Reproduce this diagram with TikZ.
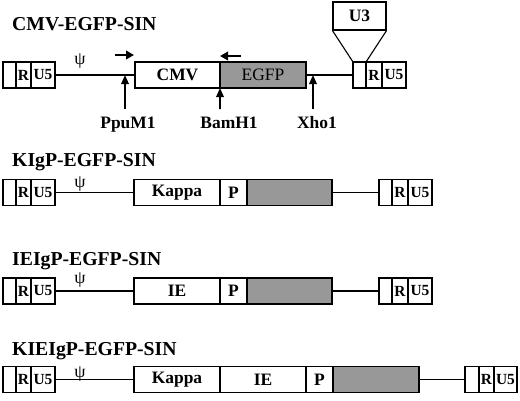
\documentclass[tikz,border=0pt]{standalone}
\usepackage{fontspec}
\setmainfont{Liberation Serif}
\usetikzlibrary{arrows.meta}
\newcommand\ttlfont{\fontsize{19.8}{19.8}\selectfont\bfseries}
\newcommand\labfont{\fontsize{17.5}{17.5}\selectfont\bfseries}
\newcommand\ltrfont{\fontsize{15.5}{15.5}\selectfont\bfseries}
\newcommand\sitefont{\fontsize{17.5}{17.5}\selectfont\bfseries}
\definecolor{egfpgray}{RGB}{152,152,152}
\tikzset{
  seg/.style={draw, line width=1.1bp, minimum height=26bp, inner sep=0pt, outer sep=0pt, anchor=west, font=\labfont},
  ltr/.style={seg, font=\ltrfont},
  gfp/.style={seg, fill=egfpgray},
  link/.style={line width=1.1bp},
  ttl/.style={anchor=base west, inner sep=0pt, font=\ttlfont},
  psi/.style={inner sep=0pt, font=\fontsize{18}{18}\selectfont},
  site/.style={anchor=base, inner sep=0pt, font=\sitefont},
  uparrow/.style={line width=1.6bp, -{Triangle[length=9bp,width=7.5bp]}},
  primer/.style={line width=2bp, -{Triangle[length=8bp,width=8.5bp]}}
}
\begin{document}
\begin{tikzpicture}[x=1bp,y=-1bp]
\useasboundingbox (0,0) rectangle (520,400);
% ---------- Row 1 ----------
\node[ttl] (t1) at (12,30) {CMV-EGFP-SIN};
\node[ltr, minimum width=13bp] (a1) at (3,75) {};
\node[ltr, minimum width=15bp] (a1r) at (a1.east) {R};
\node[ltr, minimum width=24bp] (a1u) at (a1r.east) {U5};
\node[seg, minimum width=85bp] (cmv) at (135,75) {CMV};
\node[gfp, minimum width=86bp, font=\fontsize{17.5}{17.5}\selectfont] (egfp) at (cmv.east) {EGFP};
\node[ltr, minimum width=13bp] (b1) at (353,75) {};
\node[ltr, minimum width=16bp] (b1r) at (b1.east) {R};
\node[ltr, minimum width=24bp] (b1u) at (b1r.east) {U5};
\node[draw, line width=1.1bp, minimum width=53bp, minimum height=28bp, inner sep=0pt, font=\labfont] (u3) at (359.5,16) {U3};
\draw[link] (u3.south west) -- (b1.north west);
\draw[link] (u3.south east) -- (b1.north east);
\draw[link] (a1u.east) -- (cmv.west);
\draw[link] (egfp.east) -- (b1.west);
\node[psi] (psi1) at (80,61) {ψ};
% primers
\coordinate (p1s) at (115,55);
\coordinate (p1e) at (134,55);
\draw[primer] (p1s) -- (p1e);
\coordinate (p2s) at (241,56);
\coordinate (p2e) at (220,56);
\draw[primer] (p2s) -- (p2e);
% sites
\node[site] (ppu) at (128,128) {PpuM1};
\node[site] (bam) at (229,128) {BamH1};
\node[site] (xho) at (317,128) {Xho1};
\coordinate (ppuS) at (125,109);
\coordinate (ppuT) at (125,75);
\coordinate (bamS) at (220,109);
\coordinate (xhoS) at (313,109);
\coordinate (xhoT) at (313,75);
\draw[uparrow] (ppuS) -- (ppuT);
\draw[uparrow] (bamS) -- (cmv.south east);
\draw[uparrow] (xhoS) -- (xhoT);
% ---------- Row 2 ----------
\node[ttl] (t2) at (12,166.5) {KIgP-EGFP-SIN};
\node[ltr, minimum width=13bp] (a2) at (3,192.5) {};
\node[ltr, minimum width=15bp] (a2r) at (a2.east) {R};
\node[ltr, minimum width=24bp] (a2u) at (a2r.east) {U5};
\node[seg, minimum width=86bp] (kap2) at (134,192.5) {Kappa};
\node[seg, minimum width=27bp] (p2) at (kap2.east) {P};
\node[gfp, minimum width=85bp] (g2) at (p2.east) {};
\node[ltr, minimum width=13bp] (b2) at (379,192.5) {};
\node[ltr, minimum width=16bp] (b2r) at (b2.east) {R};
\node[ltr, minimum width=24bp] (b2u) at (b2r.east) {U5};
\draw[link] (a2u.east) -- (kap2.west);
\draw[link] (g2.east) -- (b2.west);
\node[psi] (psi2) at (80,184) {ψ};
% ---------- Row 3 ----------
\node[ttl] (t3) at (12,265) {IEIgP-EGFP-SIN};
\node[ltr, minimum width=13bp] (a3) at (3,291) {};
\node[ltr, minimum width=15bp] (a3r) at (a3.east) {R};
\node[ltr, minimum width=24bp] (a3u) at (a3r.east) {U5};
\node[seg, minimum width=86bp] (ie3) at (134,291) {IE};
\node[seg, minimum width=27bp] (p3) at (ie3.east) {P};
\node[gfp, minimum width=85bp] (g3) at (p3.east) {};
\node[ltr, minimum width=13bp] (b3) at (379,291) {};
\node[ltr, minimum width=16bp] (b3r) at (b3.east) {R};
\node[ltr, minimum width=24bp] (b3u) at (b3r.east) {U5};
\draw[link] (a3u.east) -- (ie3.west);
\draw[link] (g3.east) -- (b3.west);
\node[psi] (psi3) at (80,280.5) {ψ};
% ---------- Row 4 ----------
\node[ttl] (t4) at (12,355.5) {KIEIgP-EGFP-SIN};
\node[ltr, minimum width=13bp] (a4) at (3,379.5) {};
\node[ltr, minimum width=15bp] (a4r) at (a4.east) {R};
\node[ltr, minimum width=24bp] (a4u) at (a4r.east) {U5};
\node[seg, minimum width=86bp] (kap4) at (134,379.5) {Kappa};
\node[seg, minimum width=86bp] (ie4) at (kap4.east) {IE};
\node[seg, minimum width=27bp] (p4) at (ie4.east) {P};
\node[gfp, minimum width=86bp] (g4) at (p4.east) {};
\node[ltr, minimum width=14bp] (b4) at (465,379.5) {};
\node[ltr, minimum width=15bp] (b4r) at (b4.east) {R};
\node[ltr, minimum width=23bp] (b4u) at (b4r.east) {U5};
\draw[link] (a4u.east) -- (kap4.west);
\draw[link] (g4.east) -- (b4.west);
\node[psi] (psi4) at (80,374) {ψ};
\end{tikzpicture}
\end{document}
